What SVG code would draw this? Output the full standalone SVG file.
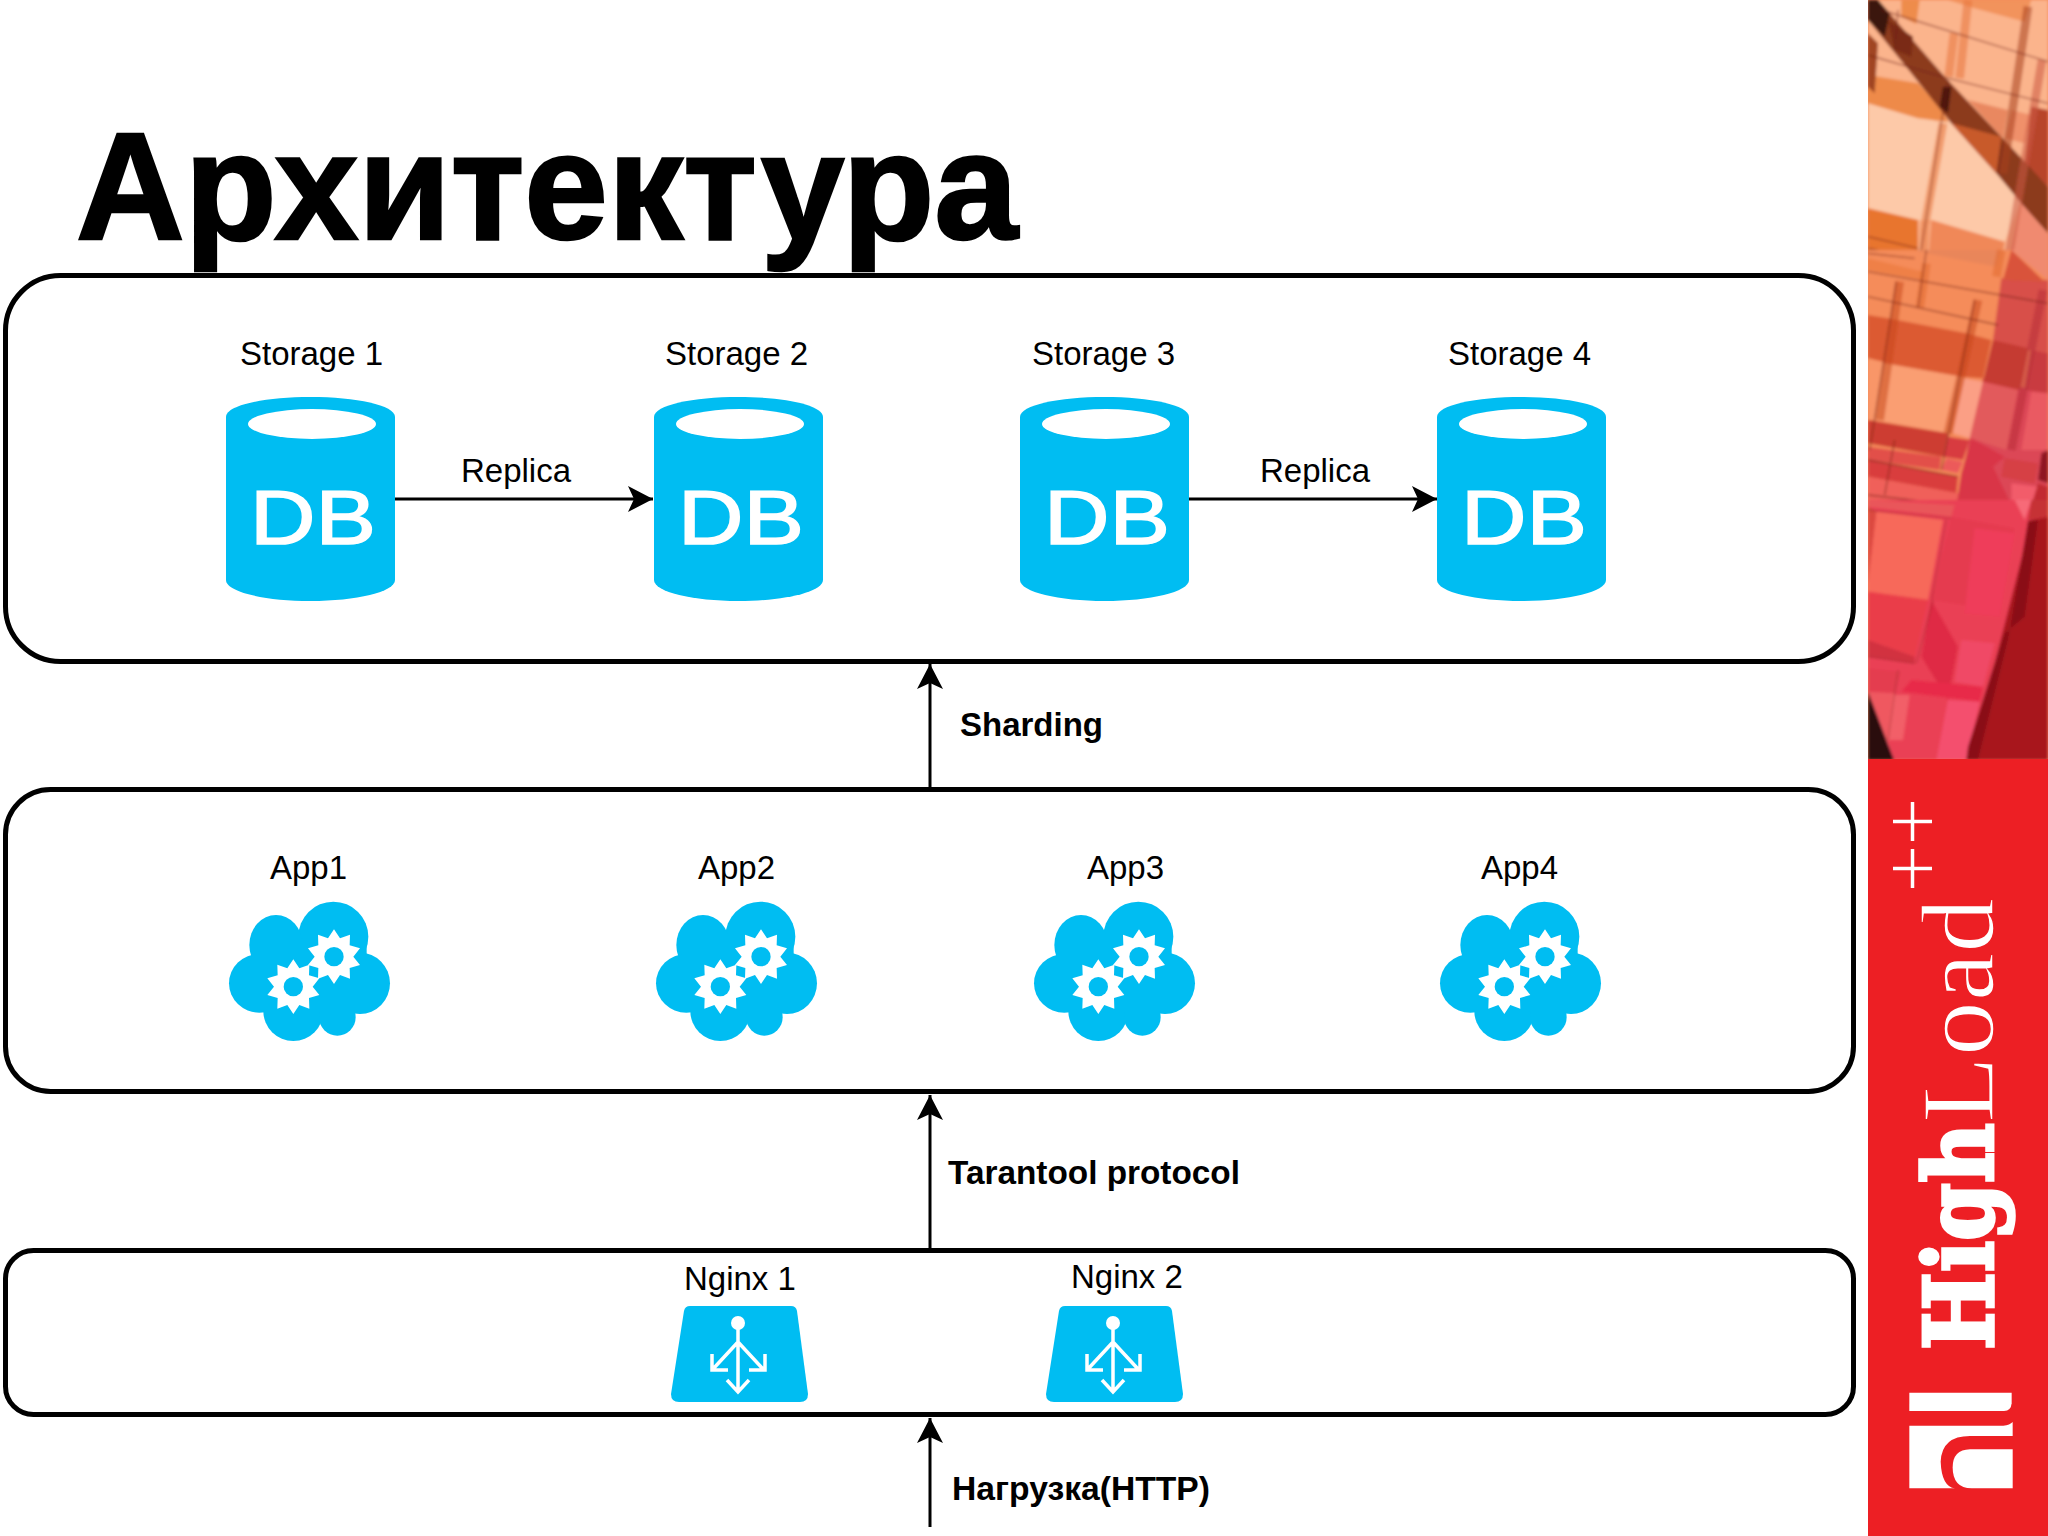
<svg xmlns="http://www.w3.org/2000/svg" width="2048" height="1536" viewBox="0 0 2048 1536">
<style>
text{font-family:"Liberation Sans",Arial,sans-serif;font-size:33px;fill:#000}
.b{font-weight:bold}
.frame{fill:none;stroke:#000;stroke-width:5}
.conn{stroke:#000;stroke-width:3;fill:none}
.ic{fill:#00bdf2}
.dbt{font-size:76px;fill:#fff;stroke:#fff;stroke-width:1.500}
.ln{fill:none;stroke:#6e1a10;stroke-width:4;opacity:.6}
.br{fill:none;stroke-width:26;opacity:.55}
</style>
<defs>
<marker id="ah" markerUnits="userSpaceOnUse" markerWidth="30" markerHeight="28" refX="25" refY="13" orient="auto">
<path d="M0 0L25 13L0 26L6 13Z" fill="#000"/>
</marker>
<g id="cyl">
<path class="ic" d="M226 417C226 405 265 397 310.500 397C356 397 395 405 395 417V580C395 592 356 601 310.500 601C265 601 226 592 226 580Z"/>
<ellipse cx="312" cy="424" rx="64" ry="15" fill="#fff"/>
<text class="dbt" x="250" y="544" textLength="126" lengthAdjust="spacingAndGlyphs">DB</text>
</g>
<polygon id="gear" fill="#fff" points="0,-82 18,-55 48,-66 47,-34 78,-25 58,0 78,25 47,34 48,66 18,55 0,82 -18,55 -48,66 -47,34 -78,25 -58,0 -78,-25 -47,-34 -48,-66 -18,-55"/>
<g id="cloud" transform="translate(200 840) scale(.33333)">
<g class="ic">
<circle cx="400" cy="290" r="105"/><ellipse cx="228" cy="315" rx="80" ry="90"/><ellipse cx="178" cy="430" rx="91" ry="88"/><ellipse cx="480" cy="430" rx="90" ry="92"/><circle cx="280" cy="513" r="90"/><circle cx="412" cy="532" r="55"/><rect x="170" y="300" width="330" height="210"/>
</g>
<use href="#gear" transform="translate(402 350)"/><circle class="ic" cx="402" cy="350" r="29"/>
<use href="#gear" transform="translate(280 440)"/><circle class="ic" cx="280" cy="440" r="29"/>
</g>
<g id="lb">
<path class="ic" d="M690 1306H791Q796 1306 797 1311L808 1394Q808 1402 800 1402H679Q671 1402 671 1394L684 1311Q685 1306 690 1306Z"/>
<circle cx="738" cy="1323" r="7" fill="#fff"/>
<path d="M738 1328V1391M738 1342L713 1369M738 1342L763 1369M712 1354V1370H728M765 1354V1370H749M727 1380L738 1392L749 1380" fill="none" stroke="#fff" stroke-width="3.500"/>
</g>
<clipPath id="pc"><rect x="1868" y="0" width="180" height="759"/></clipPath>
<filter id="soft" x="-5%" y="-5%" width="110%" height="110%"><feGaussianBlur stdDeviation="1.500"/></filter>
</defs>

<g id="slide-photo" clip-path="url(#pc)">
<rect x="1868" y="0" width="180" height="759" fill="#f58c5a"/>
<g filter="url(#soft)">
<g transform="translate(1868 0) scale(.33333)">
<rect width="540" height="790" fill="#fbb48c"/>
<polygon points="240,0 490,0 470,65 320,25" fill="#f2935c"/>
<polygon points="100,0 155,0 145,72 100,50" fill="#ee8c4c"/>
<polygon points="0,305 210,365 245,365 385,520 460,600 410,725 190,660 150,660 0,625" fill="#fdc9a8"/>
<polygon points="0,225 150,250 215,320 240,365 150,355 0,310" fill="#ee8a48"/>
<polygon points="0,625 150,660 150,790 0,790" fill="#e8752f"/>
<polygon points="190,660 410,725 400,790 180,790" fill="#f08858"/>
<polygon points="300,300 420,330 405,415" fill="#e98860"/>
<polygon points="430,330 490,345 470,430 410,415" fill="#f0906a"/>
<polygon points="460,600 540,700 540,790 420,790" fill="#f08a70"/>
<polygon points="490,320 540,330 540,560 470,490" fill="#b8442c"/>
<polygon points="0,0 30,0 230,230 400,410 540,560 540,700 460,610 385,520 250,370 110,195 0,60" fill="#8c3a1c"/>
<polygon points="250,370 400,410 385,520" fill="#c85a2a"/>
<polygon points="0,0 30,0 65,40 50,110 0,60" fill="#3a1208"/>
<polygon points="60,60 135,110 130,170 80,150" fill="#7a2c14"/>
<polygon points="225,260 250,260 240,340 215,320" fill="#4a1608"/>
<polygon points="0,100 30,130 20,280 0,260" fill="#a04420"/>
<path class="br" stroke="#e8743c" d="M170 680L225 370M165 790L170 680M300 0L275 235M258 100L242 230"/>
<path class="br" stroke="#a8401e" d="M480 20L405 520"/>
<path class="br" stroke="#cc5a44" d="M522 180L420 780"/>
<path class="ln" d="M40 30L540 185M0 165L230 232L540 310M0 710L150 745M90 30L80 150M240 240L155 780M405 430L390 520M0 745L180 780"/>
</g>
<g transform="translate(1868 250) scale(.33333)">
<rect width="540" height="785" fill="#f58c5a"/>
<polygon points="400,85 540,90 540,310 480,300 375,270" fill="#d84f4a"/>
<polygon points="345,385 540,430 540,785 262,785 305,565" fill="#dc4656"/>
<polygon points="0,25 165,65 165,90 0,60" fill="#ef8046"/>
<polygon points="140,0 400,0 385,50 175,10" fill="#e9865a"/>
<polygon points="430,0 540,0 540,90" fill="#f08a70"/>
<polygon points="430,0 530,95 405,90" fill="#d9523a"/>
<polygon points="0,195 60,205 295,250 370,270 345,385 280,380 50,340 0,325" fill="#dc5a32"/>
<polygon points="375,270 480,295 455,420 345,395" fill="#c53a30"/>
<polygon points="345,395 450,420 415,600 305,565" fill="#e25a5c"/>
<polygon points="490,425 540,430 540,600 460,600" fill="#ea5a62"/>
<polygon points="490,300 540,310 540,430 470,420" fill="#c93a40"/>
<polygon points="50,340 280,380 240,550 20,510" fill="#fa9e72"/>
<polygon points="0,325 45,335 20,510 0,510" fill="#f99668"/>
<polygon points="285,385 345,395 305,565 255,550" fill="#fb9f85"/>
<polygon points="0,510 240,550 225,620 0,580" fill="#cd3d30"/>
<polygon points="0,590 220,620 215,660 0,630" fill="#e2504a"/>
<polygon points="240,560 305,570 285,630 225,620" fill="#d83a40"/>
<polygon points="235,625 285,635 270,670 220,660" fill="#ec5a5a"/>
<polygon points="0,630 270,680 265,730 0,680" fill="#d93c3c"/>
<polygon points="0,680 270,730 262,785 0,785" fill="#f0605a"/>
<polygon points="310,565 410,620 375,650 440,785 262,785 280,670" fill="#d93446"/>
<polygon points="410,625 510,640 500,700 400,680" fill="#d63f45"/>
<polygon points="430,700 510,710 480,785 430,785" fill="#f25b6b"/>
<polygon points="520,610 540,600 540,700 510,690" fill="#8f1520"/>
<polygon points="510,700 540,710 540,785 485,785" fill="#c22a30"/>
<path class="br" stroke="#c8481e" d="M95 95L35 510M330 150L240 550"/>
<path class="br" stroke="#e06a30" d="M175 40L155 175M400 0L385 80"/>
<path class="br" stroke="#b83038" d="M525 120L430 600"/>
<path class="ln" d="M0 65L540 160M0 140L390 225M0 10L140 25M175 0L150 175M85 95L5 600M320 150L220 660M80 570L50 735M0 630L270 680M0 735L260 765"/>
</g>
<g transform="translate(1868 500) scale(.33333)">
<rect width="540" height="780" fill="#ea3f55"/>
<polygon points="0,0 260,15 250,50 0,20" fill="#e9565a"/>
<polygon points="25,35 225,60 180,300 0,275 0,245" fill="#f7695a"/>
<polygon points="0,20 25,35 0,245" fill="#dc4a40"/>
<polygon points="250,50 440,85 380,330 190,300" fill="#e53a50"/>
<polygon points="320,85 440,100 395,350 290,340" fill="#ef3e5a"/>
<polygon points="0,275 180,300 140,470 0,420" fill="#ea3c48"/>
<polygon points="190,300 270,440 240,600 160,470" fill="#df2c44"/>
<polygon points="0,420 140,470 140,490 0,470" fill="#d23040"/>
<polygon points="0,505 100,515 80,580 0,575" fill="#e43c50"/>
<polygon points="0,575 80,580 60,720 75,780 0,780" fill="#ef5860"/>
<polygon points="75,585 125,585 105,720 60,720" fill="#f25f68"/>
<polygon points="130,540 345,560 335,605 100,575" fill="#e82a48"/>
<polygon points="280,420 380,430 345,560 260,545" fill="#f04a66"/>
<polygon points="240,600 335,605 295,780 205,780" fill="#f4506e"/>
<polygon points="440,0 490,0 470,60" fill="#f76a78"/>
<polygon points="490,0 540,0 540,50 480,60" fill="#c63034"/>
<polygon points="490,60 540,50 540,780 295,780 380,490" fill="#a8161f"/>
<polygon points="480,62 510,60 470,350 410,400 380,490 345,600 300,740 295,780 330,780 420,420" fill="#8a1018"/>
<polygon points="0,575 78,780 0,780" fill="#2a0e10"/>
<path class="ln" stroke-opacity=".5" d="M0 30L250 55M235 60L190 300M0 470L140 490M145 490L195 300M90 510L60 720"/>
</g>
</g>
</g>

<g id="slide-logo">
<rect x="1868" y="759" width="180" height="777" fill="#ed1f24"/>
<text id="logo-high" transform="translate(1993 1350) rotate(-90)" style="font-family:'DejaVu Serif',serif;font-size:95px;font-weight:bold;fill:#fff;stroke:#fff;stroke-width:3.500" textLength="227" lengthAdjust="spacingAndGlyphs">High</text>
<text id="logo-load" transform="translate(1993 1123) rotate(-90)" style="font-family:'Liberation Serif',serif;font-size:103px;fill:#fff;stroke:#ed1f24;stroke-width:1.500" textLength="225" lengthAdjust="spacingAndGlyphs">Load</text>
<path d="M1893 821.500H1932M1912.500 802V841M1893 868.500H1932M1912.500 849V888" stroke="#fff" stroke-width="3.500" fill="none"/>
<g transform="translate(1900 1380) scale(.33333)" fill="#fff">
<path d="M28 38H335V70Q333 93 312 93H28Z"/>
<path d="M28 137H310Q330 135 338 126V168H210Q125 168 122 245Q125 320 165 325H28Z"/>
<path d="M338 208H210Q158 210 158 262Q158 325 215 325H338Z"/>
</g>
</g>

<text id="title" class="b" x="76" y="239" style="font-size:153px;stroke:#000;stroke-width:2.500" textLength="942" lengthAdjust="spacingAndGlyphs">Архитектура</text>

<g id="tier-storage"><rect class="frame" x="5.500" y="275.500" width="1848" height="386" rx="55"/></g>
<g id="tier-app"><rect class="frame" x="5.500" y="789.500" width="1848" height="302" rx="45"/></g>
<g id="tier-nginx"><rect class="frame" x="5.500" y="1250.500" width="1848" height="164" rx="28"/></g>

<g id="storage-1"><text x="240" y="365">Storage 1</text><use href="#cyl"/></g>
<g id="storage-2"><text x="665" y="365">Storage 2</text><use href="#cyl" x="428"/></g>
<g id="storage-3"><text x="1032" y="365">Storage 3</text><use href="#cyl" x="794"/></g>
<g id="storage-4"><text x="1448" y="365">Storage 4</text><use href="#cyl" x="1211"/></g>

<g id="app-1"><text x="270" y="879">App1</text><use href="#cloud"/></g>
<g id="app-2"><text x="698" y="879">App2</text><use href="#cloud" x="427"/></g>
<g id="app-3"><text x="1087" y="879">App3</text><use href="#cloud" x="805"/></g>
<g id="app-4"><text x="1481" y="879">App4</text><use href="#cloud" x="1211"/></g>

<g id="nginx-1"><text x="684" y="1290">Nginx 1</text><use href="#lb"/></g>
<g id="nginx-2"><text x="1071" y="1288">Nginx 2</text><use href="#lb" x="375"/></g>

<g id="connectors">
<path class="conn" marker-end="url(#ah)" d="M395 499H653"/>
<path class="conn" marker-end="url(#ah)" d="M1189 499H1437"/>
<path class="conn" marker-end="url(#ah)" d="M930 789V664"/>
<path class="conn" marker-end="url(#ah)" d="M930 1250V1095"/>
<path class="conn" marker-end="url(#ah)" d="M930 1527V1418"/>
<text x="461" y="482">Replica</text>
<text x="1260" y="482">Replica</text>
<text class="b" x="960" y="736">Sharding</text>
<text class="b" x="948" y="1184" textLength="292" lengthAdjust="spacingAndGlyphs">Tarantool protocol</text>
<text class="b" x="952" y="1500" textLength="258" lengthAdjust="spacingAndGlyphs">Нагрузка(HTTP)</text>
</g>
</svg>
